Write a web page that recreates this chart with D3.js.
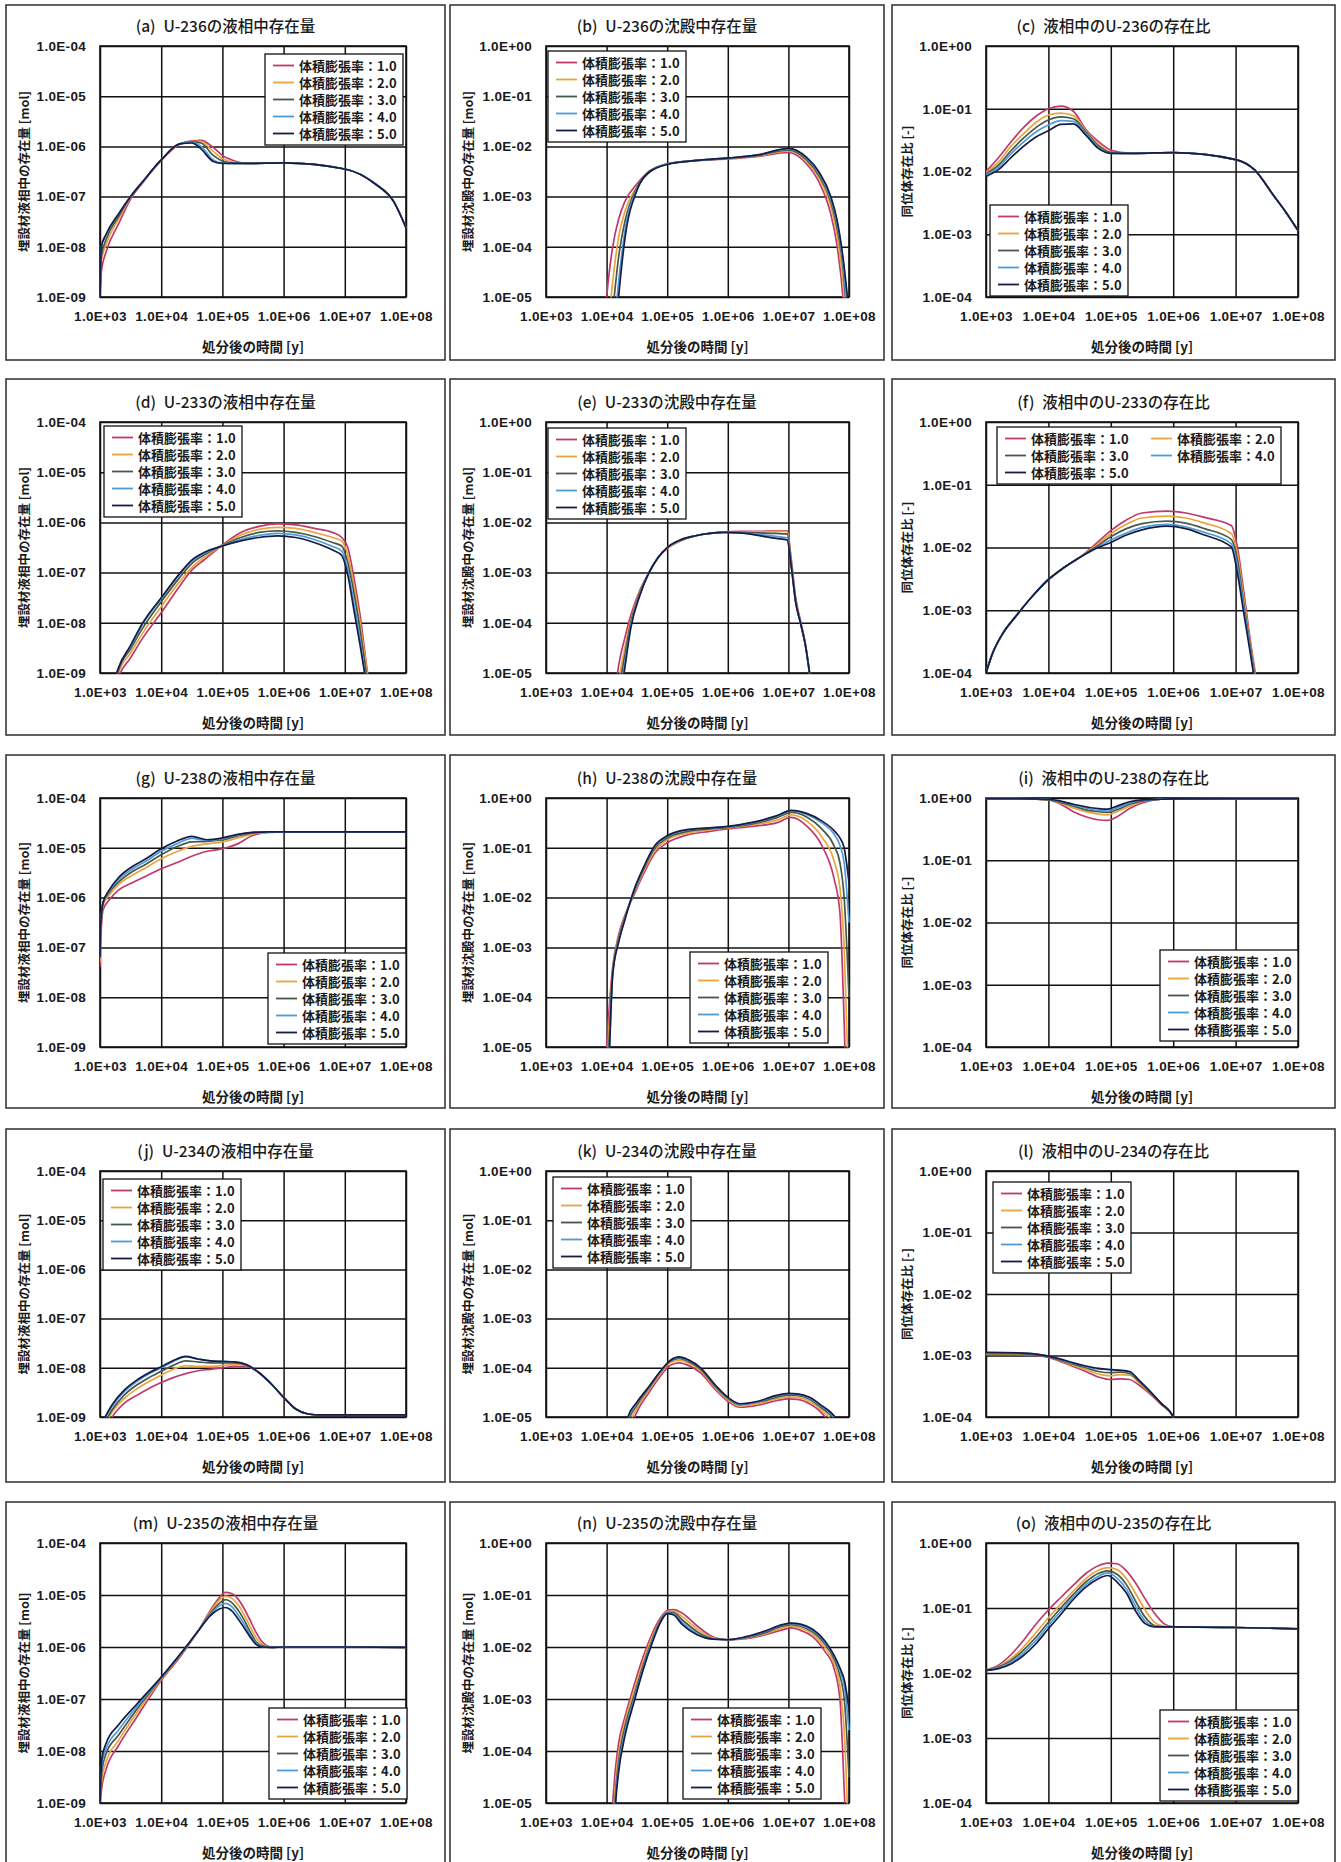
<!DOCTYPE html>
<html>
<head>
<meta charset="utf-8">
<script src="https://cdn.jsdelivr.net/npm/d3@7"></script>
<style>
  html, body { margin: 0; padding: 0; background: #ffffff; }
  svg { display: block; font-family: "Noto Sans CJK JP", "Noto Sans", sans-serif; }
</style>
</head>
<body>
<svg id="chart" width="1341" height="1862"></svg>
<script>
// ---------------------------------------------------------------
// Series definitions (volume expansion ratio 1.0 .. 5.0)
// ---------------------------------------------------------------
const volumeRatios = ["1.0", "2.0", "3.0", "4.0", "5.0"];
const legendLabels = volumeRatios.map(r => "体積膨張率：" + r);
const seriesColors = ["#c0386c", "#e9a43c", "#485848", "#4d9bd9", "#161c46"];

const panelTitles = [
  "(a)\u2002U-236の液相中存在量", "(b)\u2002U-236の沈殿中存在量", "(c)\u2002液相中のU-236の存在比",
  "(d)\u2002U-233の液相中存在量", "(e)\u2002U-233の沈殿中存在量", "(f)\u2002液相中のU-233の存在比",
  "(g)\u2002U-238の液相中存在量", "(h)\u2002U-238の沈殿中存在量", "(i)\u2002液相中のU-238の存在比",
  "(j)\u2002U-234の液相中存在量", "(k)\u2002U-234の沈殿中存在量", "(l)\u2002液相中のU-234の存在比",
  "(m)\u2002U-235の液相中存在量", "(n)\u2002U-235の沈殿中存在量", "(o)\u2002液相中のU-235の存在比"
];
const yTitleLiquid = "埋設材液相中の存在量 [mol]";
const yTitleSolid = "埋設材沈殿中の存在量 [mol]";
const yTitleRatio = "同位体存在比 [-]";
const xTitle = "処分後の時間 [y]";

// Axis ticks
const xTickValues = [1e3, 1e4, 1e5, 1e6, 1e7, 1e8];
const xTickLabels = ["1.0E+03", "1.0E+04", "1.0E+05", "1.0E+06", "1.0E+07", "1.0E+08"];
const yTickValuesLiquid = [1e-9, 1e-8, 1e-7, 1e-6, 1e-5, 1e-4];
const yTickLabelsLiquid = ["1.0E-09", "1.0E-08", "1.0E-07", "1.0E-06", "1.0E-05", "1.0E-04"];
const yTickValuesSolid = [1e-5, 1e-4, 1e-3, 1e-2, 1e-1, 1];
const yTickLabelsSolid = ["1.0E-05", "1.0E-04", "1.0E-03", "1.0E-02", "1.0E-01", "1.0E+00"];
const yTickValuesRatio = [1e-4, 1e-3, 1e-2, 1e-1, 1];
const yTickLabelsRatio = ["1.0E-04", "1.0E-03", "1.0E-02", "1.0E-01", "1.0E+00"];

// ---------------------------------------------------------------
// (a) U-236 in liquid phase [mol]
// ---------------------------------------------------------------
const tA = [1000, 1050, 1260, 2000, 3160, 5010, 1e4, 2e4, 3.16e4, 4.47e4, 7.08e4, 1e5, 1.58e5, 2.51e5, 1e6, 1e7, 3.16e7, 6.31e7, 1e8];
const vA = [
  [1e-9, 3.16e-9, 7.94e-9, 2.82e-8, 8.91e-8, 1.91e-7, 5.25e-7, 1.1e-6, 1.29e-6, 1.32e-6, 9.55e-7, 6.61e-7, 5.13e-7, 4.57e-7, 4.68e-7, 3.55e-7, 1.78e-7, 7.94e-8, 2.4e-8],
  [1e-9, 5.01e-9, 1.12e-8, 3.55e-8, 9.55e-8, 2e-7, 5.37e-7, 1.12e-6, 1.26e-6, 1.26e-6, 7.94e-7, 5.75e-7, 4.79e-7, 4.57e-7, 4.68e-7, 3.55e-7, 1.78e-7, 7.94e-8, 2.4e-8],
  [1e-9, 6.31e-9, 1.41e-8, 3.98e-8, 1e-7, 2e-7, 5.37e-7, 1.12e-6, 1.23e-6, 1.17e-6, 6.61e-7, 5.13e-7, 4.57e-7, 4.57e-7, 4.68e-7, 3.55e-7, 1.78e-7, 7.94e-8, 2.4e-8],
  [1e-9, 1e-8, 1.78e-8, 4.47e-8, 1e-7, 2e-7, 5.37e-7, 1.12e-6, 1.2e-6, 1e-6, 5.37e-7, 4.68e-7, 4.57e-7, 4.57e-7, 4.68e-7, 3.55e-7, 1.78e-7, 7.94e-8, 2.4e-8],
  [1e-9, 1e-8, 1.78e-8, 4.47e-8, 1e-7, 2e-7, 5.37e-7, 1.12e-6, 1.17e-6, 8.91e-7, 5.01e-7, 4.57e-7, 4.57e-7, 4.57e-7, 4.68e-7, 3.55e-7, 1.78e-7, 7.94e-8, 2.4e-8]
];

// (b) U-236 in precipitate [mol]
const tB = [7940, 1e4, 1.26e4, 1.58e4, 2e4, 3.16e4, 5.01e4, 1e5, 3.16e5, 1e6, 3.16e6, 1e7, 2e7, 3.16e7, 5.01e7, 6.31e7, 7.94e7, 1e8];
const vB = [
  [3.16e-7, 1e-5, 1e-4, 3.55e-4, 7.94e-4, 1.78e-3, 3.16e-3, 4.47e-3, 5.25e-3, 5.62e-3, 6.31e-3, 7.59e-3, 4.47e-3, 2e-3, 4.47e-4, 1.12e-4, 1e-5, 1e-7],
  [1e-7, 1e-6, 2e-5, 1.58e-4, 5.01e-4, 1.58e-3, 3.16e-3, 4.47e-3, 5.25e-3, 5.75e-3, 6.46e-3, 8.13e-3, 5.01e-3, 2.4e-3, 6.31e-4, 1.78e-4, 2e-5, 3.16e-7],
  [1e-7, 3.16e-7, 5.01e-6, 6.31e-5, 3.16e-4, 1.51e-3, 3.16e-3, 4.47e-3, 5.25e-3, 5.75e-3, 6.61e-3, 8.51e-3, 5.37e-3, 2.69e-3, 7.94e-4, 2.51e-4, 3.98e-5, 1e-6],
  [1e-7, 1e-7, 1e-6, 2e-5, 2e-4, 1.41e-3, 3.02e-3, 4.47e-3, 5.25e-3, 5.89e-3, 6.76e-3, 8.91e-3, 5.75e-3, 2.95e-3, 8.91e-4, 3.16e-4, 5.01e-5, 1.58e-6],
  [1e-7, 1e-7, 3.16e-7, 1e-5, 1.41e-4, 1.32e-3, 3.02e-3, 4.37e-3, 5.25e-3, 5.89e-3, 6.76e-3, 9.12e-3, 6.03e-3, 3.16e-3, 1e-3, 3.55e-4, 6.31e-5, 5.01e-6]
];

// (c) U-236 isotope ratio in liquid [-]
const tC = [1000, 1580, 2510, 3980, 6310, 1e4, 1.58e4, 2.51e4, 3.98e4, 6.31e4, 1e5, 1.58e5, 2.51e5, 1e6, 1e7, 2e7, 3.98e7, 6.31e7, 1e8];
const vC = [
  [1e-2, 1.66e-2, 2.95e-2, 5.01e-2, 7.59e-2, 1e-1, 1.1e-1, 9.12e-2, 4.68e-2, 3.02e-2, 2.19e-2, 2e-2, 1.95e-2, 2e-2, 1.55e-2, 1.07e-2, 4.27e-3, 2.29e-3, 1.15e-3],
  [9.55e-3, 1.41e-2, 2.51e-2, 3.98e-2, 6.03e-2, 7.94e-2, 8.51e-2, 7.76e-2, 4.47e-2, 2.75e-2, 2.04e-2, 1.95e-2, 1.95e-2, 2e-2, 1.55e-2, 1.07e-2, 4.27e-3, 2.29e-3, 1.15e-3],
  [9.12e-3, 1.26e-2, 2.14e-2, 3.39e-2, 5.01e-2, 6.61e-2, 7.41e-2, 6.92e-2, 4.27e-2, 2.57e-2, 2e-2, 1.95e-2, 1.95e-2, 2e-2, 1.55e-2, 1.07e-2, 4.27e-3, 2.29e-3, 1.15e-3],
  [8.71e-3, 1.17e-2, 1.91e-2, 2.95e-2, 4.27e-2, 5.5e-2, 6.46e-2, 6.31e-2, 4.07e-2, 2.45e-2, 1.95e-2, 1.95e-2, 1.95e-2, 2e-2, 1.55e-2, 1.07e-2, 4.27e-3, 2.29e-3, 1.15e-3],
  [8.32e-3, 1.07e-2, 1.66e-2, 2.51e-2, 3.55e-2, 4.47e-2, 5.62e-2, 5.75e-2, 3.8e-2, 2.34e-2, 1.95e-2, 1.95e-2, 1.95e-2, 2e-2, 1.55e-2, 1.07e-2, 4.27e-3, 2.29e-3, 1.15e-3]
];

// (d) U-233 in liquid phase [mol]
const tD = [1580, 2000, 3160, 5010, 1e4, 2e4, 3.16e4, 5.01e4, 1e5, 2e5, 3.98e5, 7.94e5, 1.58e6, 3.16e6, 6.31e6, 8.91e6, 1.12e7, 1.41e7, 1.78e7, 2.24e7, 2.82e7];
const vD = [
  [1e-10, 7.94e-10, 2e-9, 5.01e-9, 1.58e-8, 5.37e-8, 1.12e-7, 1.78e-7, 3.55e-7, 6.31e-7, 8.32e-7, 9.33e-7, 8.91e-7, 7.59e-7, 6.31e-7, 5.01e-7, 3.16e-7, 7.94e-8, 1.41e-8, 1.58e-9, 2e-10],
  [1.58e-10, 1e-9, 2.51e-9, 6.31e-9, 2.09e-8, 6.61e-8, 1.26e-7, 2e-7, 3.47e-7, 5.62e-7, 7.24e-7, 7.94e-7, 7.59e-7, 6.31e-7, 5.01e-7, 4.27e-7, 2.24e-7, 5.62e-8, 1e-8, 1.41e-9, 2e-10],
  [2.51e-10, 1.12e-9, 3.02e-9, 7.94e-9, 2.63e-8, 7.94e-8, 1.51e-7, 2.24e-7, 3.47e-7, 5.01e-7, 6.31e-7, 6.76e-7, 6.31e-7, 5.25e-7, 3.98e-7, 3.39e-7, 1.58e-7, 3.98e-8, 7.08e-9, 1e-9, 1.58e-10],
  [3.98e-10, 1.26e-9, 3.39e-9, 9.55e-9, 3.02e-8, 9.33e-8, 1.7e-7, 2.4e-7, 3.39e-7, 4.57e-7, 5.5e-7, 6.03e-7, 5.62e-7, 4.57e-7, 3.31e-7, 2.69e-7, 1.12e-7, 2.51e-8, 4.47e-9, 6.31e-10, 1e-10],
  [5.01e-10, 1.26e-9, 3.55e-9, 1e-8, 3.16e-8, 9.55e-8, 1.78e-7, 2.51e-7, 3.39e-7, 4.27e-7, 5.01e-7, 5.37e-7, 5.01e-7, 3.98e-7, 2.82e-7, 2.19e-7, 8.91e-8, 1.78e-8, 3.55e-9, 6.31e-10, 1e-10]
];

// (e) U-233 in precipitate [mol]
const tE = [1.26e4, 1.58e4, 2e4, 2.51e4, 3.55e4, 5.01e4, 7.08e4, 1e5, 1.58e5, 2.82e5, 5.01e5, 8.91e5, 1.58e6, 3.16e6, 6.31e6, 9.55e6, 1.12e7, 1.32e7, 1.58e7, 1.91e7, 2.29e7, 2.82e7];
const vE = [
  [1.58e-6, 1.41e-5, 5.01e-5, 1.41e-4, 4.47e-4, 1e-3, 2e-3, 3.02e-3, 4.17e-3, 5.37e-3, 6.03e-3, 6.46e-3, 6.61e-3, 6.61e-3, 6.76e-3, 6.76e-3, 1.78e-3, 3.16e-4, 1.12e-4, 3.8e-5, 7.94e-6, 1e-6],
  [6.31e-7, 6.31e-6, 3.16e-5, 1.12e-4, 4.17e-4, 1e-3, 2e-3, 3.09e-3, 4.27e-3, 5.37e-3, 6.03e-3, 6.46e-3, 6.46e-3, 6.46e-3, 6.61e-3, 6.61e-3, 1.58e-3, 2.82e-4, 1e-4, 3.55e-5, 7.94e-6, 1e-6],
  [3.16e-7, 3.98e-6, 2.24e-5, 1e-4, 3.98e-4, 1e-3, 2e-3, 3.16e-3, 4.37e-3, 5.37e-3, 6.03e-3, 6.31e-3, 6.31e-3, 6.17e-3, 6.03e-3, 5.89e-3, 1.41e-3, 2.69e-4, 1e-4, 3.55e-5, 7.94e-6, 1e-6],
  [1.58e-7, 2.51e-6, 1.58e-5, 8.91e-5, 3.72e-4, 1e-3, 2e-3, 3.16e-3, 4.37e-3, 5.37e-3, 6.03e-3, 6.31e-3, 6.17e-3, 5.75e-3, 5.25e-3, 4.9e-3, 1.32e-3, 2.51e-4, 1e-4, 3.55e-5, 7.94e-6, 1e-6],
  [1e-7, 1.58e-6, 1.26e-5, 7.94e-5, 3.55e-4, 1e-3, 2e-3, 3.16e-3, 4.37e-3, 5.37e-3, 6.03e-3, 6.31e-3, 6.17e-3, 5.5e-3, 4.79e-3, 4.47e-3, 1.26e-3, 2.51e-4, 1e-4, 3.55e-5, 7.94e-6, 1e-6]
];

// (f) U-233 isotope ratio in liquid [-]
const tF = [1000, 1260, 1780, 3160, 5620, 1e4, 1.78e4, 3.16e4, 5.62e4, 1e5, 1.78e5, 3.16e5, 7.94e5, 1.58e6, 3.16e6, 8.51e6, 1.07e7, 1.35e7, 1.7e7, 2.14e7, 2.82e7];
const vF = [
  [1e-4, 2e-4, 3.98e-4, 8.51e-4, 1.7e-3, 3.09e-3, 4.79e-3, 6.92e-3, 1.12e-2, 1.86e-2, 2.75e-2, 3.55e-2, 3.8e-2, 3.55e-2, 3.02e-2, 2.24e-2, 1e-2, 2e-3, 3.55e-4, 7.94e-5, 1e-5],
  [1e-4, 2e-4, 3.98e-4, 8.51e-4, 1.7e-3, 3.09e-3, 4.79e-3, 6.92e-3, 1.05e-2, 1.66e-2, 2.34e-2, 2.95e-2, 3.16e-2, 2.95e-2, 2.45e-2, 1.66e-2, 7.94e-3, 1.58e-3, 3.16e-4, 7.08e-5, 1e-5],
  [1e-4, 2e-4, 3.98e-4, 8.51e-4, 1.7e-3, 3.09e-3, 4.79e-3, 6.92e-3, 1e-2, 1.48e-2, 2e-2, 2.4e-2, 2.63e-2, 2.45e-2, 2e-2, 1.35e-2, 6.31e-3, 1.26e-3, 2.82e-4, 6.31e-5, 1e-5],
  [1e-4, 2e-4, 3.98e-4, 8.51e-4, 1.7e-3, 3.09e-3, 4.79e-3, 6.92e-3, 9.55e-3, 1.32e-2, 1.7e-2, 2.09e-2, 2.34e-2, 2.14e-2, 1.74e-2, 1.15e-2, 5.01e-3, 1.12e-3, 2.51e-4, 5.62e-5, 1e-5],
  [1e-4, 2e-4, 3.98e-4, 8.51e-4, 1.7e-3, 3.09e-3, 4.79e-3, 6.92e-3, 9.55e-3, 1.2e-2, 1.58e-2, 1.91e-2, 2.19e-2, 2e-2, 1.58e-2, 1.02e-2, 3.89e-3, 9.12e-4, 2.24e-4, 5.01e-5, 1e-5]
];

// (g) U-238 in liquid phase [mol]
const tG = [1000, 1020, 1120, 1410, 2000, 3160, 5620, 1e4, 1.78e4, 3.16e4, 5.62e4, 1e5, 1.78e5, 3.16e5, 5.62e5, 1e6, 1e7, 1e8];
const vG = [
  [3.98e-8, 1e-7, 5.62e-7, 8.91e-7, 1.41e-6, 1.91e-6, 2.69e-6, 3.8e-6, 5.01e-6, 6.76e-6, 8.51e-6, 9.55e-6, 1.2e-5, 1.78e-5, 2.04e-5, 2.09e-5, 2.09e-5, 2.09e-5],
  [5.01e-8, 1.58e-7, 7.08e-7, 1.12e-6, 1.82e-6, 2.69e-6, 3.98e-6, 6.03e-6, 8.32e-6, 1.07e-5, 1.2e-5, 1.32e-5, 1.58e-5, 1.91e-5, 2.04e-5, 2.09e-5, 2.09e-5, 2.09e-5],
  [6.31e-8, 2e-7, 7.59e-7, 1.26e-6, 2.04e-6, 3.16e-6, 4.68e-6, 7.24e-6, 1.05e-5, 1.32e-5, 1.35e-5, 1.45e-5, 1.74e-5, 2e-5, 2.09e-5, 2.09e-5, 2.09e-5, 2.09e-5],
  [6.31e-8, 2.24e-7, 7.94e-7, 1.35e-6, 2.29e-6, 3.55e-6, 5.37e-6, 8.51e-6, 1.2e-5, 1.55e-5, 1.41e-5, 1.51e-5, 1.82e-5, 2.04e-5, 2.09e-5, 2.09e-5, 2.09e-5, 2.09e-5],
  [6.31e-8, 2.51e-7, 7.94e-7, 1.41e-6, 2.51e-6, 3.98e-6, 6.03e-6, 9.55e-6, 1.35e-5, 1.7e-5, 1.45e-5, 1.58e-5, 1.86e-5, 2.04e-5, 2.09e-5, 2.09e-5, 2.09e-5, 2.09e-5]
];

// (h) U-238 in precipitate [mol]
const tH = [7940, 1e4, 1.12e4, 1.26e4, 1.58e4, 2e4, 2.82e4, 3.98e4, 6.31e4, 1e5, 2e5, 5.01e5, 1e6, 2.51e6, 6.31e6, 1.12e7, 2e7, 3.55e7, 5.62e7, 7.08e7, 8.32e7, 1e8];
const vH = [
  [3.16e-7, 1e-5, 7.94e-5, 3.98e-4, 1.78e-3, 4.37e-3, 1.12e-2, 2.82e-2, 7.94e-2, 1.26e-1, 1.78e-1, 2.14e-1, 2.4e-1, 2.69e-1, 3.16e-1, 4.07e-1, 2.75e-1, 1.12e-1, 2.51e-2, 5.01e-3, 3.16e-5, 1e-8],
  [1e-7, 2.51e-6, 3.98e-5, 3.55e-4, 1.58e-3, 4.17e-3, 1.2e-2, 3.16e-2, 8.91e-2, 1.45e-1, 1.95e-1, 2.29e-1, 2.51e-1, 2.88e-1, 3.55e-1, 4.57e-1, 3.47e-1, 1.66e-1, 5.62e-2, 1.58e-2, 1e-3, 1e-6],
  [1e-7, 1e-6, 2e-5, 3.16e-4, 1.48e-3, 3.98e-3, 1.26e-2, 3.47e-2, 1e-1, 1.58e-1, 2.09e-1, 2.4e-1, 2.57e-1, 3.02e-1, 3.98e-1, 5.13e-1, 4.17e-1, 2.4e-1, 1.12e-1, 5.01e-2, 1e-2, 1e-4],
  [1e-7, 5.01e-7, 1.26e-5, 2.82e-4, 1.35e-3, 3.72e-3, 1.35e-2, 3.72e-2, 1.07e-1, 1.7e-1, 2.24e-1, 2.51e-1, 2.63e-1, 3.16e-1, 4.27e-1, 5.5e-1, 4.68e-1, 3.16e-1, 1.91e-1, 1.12e-1, 5.01e-2, 3.16e-3],
  [1e-7, 3.16e-7, 1e-5, 2.82e-4, 1.26e-3, 3.55e-3, 1.41e-2, 3.8e-2, 1.12e-1, 1.74e-1, 2.29e-1, 2.51e-1, 2.69e-1, 3.24e-1, 4.37e-1, 5.62e-1, 4.9e-1, 3.47e-1, 2.24e-1, 1.58e-1, 1e-1, 2e-2]
];

// (i) U-238 isotope ratio in liquid [-]
const tI = [1000, 3160, 1e4, 1.58e4, 2.51e4, 3.98e4, 6.31e4, 8.91e4, 1.26e5, 2e5, 3.16e5, 6.31e5, 1e6, 1e7, 1e8];
const vI = [
  [0.977, 0.977, 0.933, 0.794, 0.603, 0.501, 0.447, 0.437, 0.501, 0.676, 0.832, 0.955, 0.966, 0.977, 0.977],
  [0.977, 0.977, 0.933, 0.832, 0.692, 0.603, 0.55, 0.537, 0.603, 0.741, 0.871, 0.955, 0.966, 0.977, 0.977],
  [0.977, 0.977, 0.933, 0.851, 0.741, 0.646, 0.603, 0.589, 0.646, 0.794, 0.891, 0.955, 0.966, 0.977, 0.977],
  [0.977, 0.977, 0.955, 0.871, 0.776, 0.692, 0.631, 0.617, 0.692, 0.832, 0.912, 0.955, 0.966, 0.977, 0.977],
  [0.977, 0.977, 0.955, 0.891, 0.794, 0.724, 0.676, 0.661, 0.741, 0.871, 0.933, 0.955, 0.966, 0.977, 0.977]
];

// (j) U-234 in liquid phase [mol]
const tJ = [1000, 1580, 2510, 3980, 6310, 1e4, 1.58e4, 2.51e4, 3.98e4, 6.31e4, 1e5, 1.58e5, 2.51e5, 3.98e5, 6.31e5, 1e6, 1.58e6, 2.51e6, 3.98e6, 1e7, 1e8];
const vJ = [
  [3.16e-10, 1e-9, 1.91e-9, 2.75e-9, 3.8e-9, 5.01e-9, 6.31e-9, 7.59e-9, 8.71e-9, 9.33e-9, 1e-8, 1.07e-8, 1.05e-8, 7.94e-9, 4.68e-9, 2.51e-9, 1.45e-9, 1.15e-9, 1.1e-9, 1.1e-9, 1.1e-9],
  [3.98e-10, 1.26e-9, 2.4e-9, 3.72e-9, 5.25e-9, 7.08e-9, 9.33e-9, 1.1e-8, 1.07e-8, 1.07e-8, 1.12e-8, 1.17e-8, 1.1e-8, 7.94e-9, 4.68e-9, 2.51e-9, 1.45e-9, 1.15e-9, 1.1e-9, 1.1e-9, 1.1e-9],
  [5.01e-10, 1.41e-9, 2.82e-9, 4.47e-9, 6.31e-9, 8.51e-9, 1.12e-8, 1.38e-8, 1.32e-8, 1.26e-8, 1.26e-8, 1.26e-8, 1.12e-8, 7.94e-9, 4.68e-9, 2.51e-9, 1.45e-9, 1.15e-9, 1.1e-9, 1.1e-9, 1.1e-9],
  [6.31e-10, 1.66e-9, 3.31e-9, 5.25e-9, 7.59e-9, 1e-8, 1.35e-8, 1.66e-8, 1.51e-8, 1.38e-8, 1.35e-8, 1.32e-8, 1.15e-8, 7.94e-9, 4.68e-9, 2.51e-9, 1.45e-9, 1.15e-9, 1.1e-9, 1.1e-9, 1.1e-9],
  [6.31e-10, 1.78e-9, 3.55e-9, 5.62e-9, 7.94e-9, 1.05e-8, 1.41e-8, 1.7e-8, 1.51e-8, 1.38e-8, 1.35e-8, 1.32e-8, 1.15e-8, 7.94e-9, 4.68e-9, 2.51e-9, 1.45e-9, 1.15e-9, 1.1e-9, 1.1e-9, 1.1e-9]
];

// (k) U-234 in precipitate [mol]
const tK = [1.58e4, 2.24e4, 3.16e4, 5.01e4, 7.94e4, 1.12e5, 1.58e5, 2.24e5, 3.55e5, 6.31e5, 1e6, 1.58e6, 3.16e6, 6.31e6, 1e7, 1.41e7, 2.24e7, 3.55e7, 5.62e7, 7.94e7];
const vK = [
  [3.16e-7, 3.98e-6, 1.26e-5, 3.16e-5, 7.08e-5, 1.12e-4, 1.26e-4, 1.12e-4, 7.94e-5, 3.55e-5, 2.09e-5, 1.58e-5, 1.74e-5, 2.14e-5, 2.34e-5, 2.29e-5, 1.86e-5, 1.2e-5, 5.01e-6, 1e-6],
  [5.01e-7, 5.62e-6, 1.51e-5, 3.55e-5, 7.94e-5, 1.26e-4, 1.41e-4, 1.26e-4, 8.71e-5, 3.8e-5, 2.24e-5, 1.66e-5, 1.86e-5, 2.34e-5, 2.57e-5, 2.51e-5, 2.09e-5, 1.35e-5, 7.08e-6, 1.58e-6],
  [6.31e-7, 7.59e-6, 1.74e-5, 3.89e-5, 8.51e-5, 1.35e-4, 1.55e-4, 1.35e-4, 9.33e-5, 4.07e-5, 2.4e-5, 1.78e-5, 2e-5, 2.51e-5, 2.82e-5, 2.75e-5, 2.29e-5, 1.51e-5, 8.91e-6, 3.16e-6],
  [7.94e-7, 8.91e-6, 1.91e-5, 4.07e-5, 8.71e-5, 1.38e-4, 1.62e-4, 1.41e-4, 9.77e-5, 4.27e-5, 2.45e-5, 1.82e-5, 2.04e-5, 2.69e-5, 2.95e-5, 2.88e-5, 2.4e-5, 1.62e-5, 1e-5, 3.98e-6],
  [1e-6, 1e-5, 2e-5, 4.17e-5, 8.91e-5, 1.41e-4, 1.66e-4, 1.45e-4, 1e-4, 4.37e-5, 2.51e-5, 1.86e-5, 2.09e-5, 2.75e-5, 3.02e-5, 2.95e-5, 2.51e-5, 1.7e-5, 1.07e-5, 5.01e-6]
];

// (l) U-234 isotope ratio in liquid [-]
const tL = [1000, 3160, 6310, 1e4, 1.58e4, 2.51e4, 3.98e4, 6.31e4, 1e5, 1.41e5, 2e5, 2.82e5, 3.98e5, 6.31e5, 1e6, 1.12e6];
const vL = [
  [1.02e-3, 1.02e-3, 1e-3, 9.33e-4, 7.94e-4, 6.61e-4, 5.5e-4, 4.47e-4, 4.07e-4, 4.17e-4, 4.07e-4, 3.31e-4, 2.51e-4, 1.62e-4, 1e-4, 5.01e-5],
  [1.05e-3, 1.05e-3, 1.02e-3, 9.55e-4, 8.13e-4, 6.92e-4, 5.89e-4, 5.01e-4, 4.68e-4, 4.9e-4, 4.79e-4, 3.63e-4, 2.63e-4, 1.66e-4, 1e-4, 5.01e-5],
  [1.07e-3, 1.07e-3, 1.02e-3, 9.55e-4, 8.32e-4, 7.24e-4, 6.31e-4, 5.5e-4, 5.25e-4, 5.37e-4, 5.13e-4, 3.8e-4, 2.69e-4, 1.66e-4, 1e-4, 5.01e-5],
  [1.1e-3, 1.1e-3, 1.05e-3, 9.77e-4, 8.51e-4, 7.41e-4, 6.61e-4, 6.03e-4, 5.89e-4, 5.75e-4, 5.37e-4, 3.89e-4, 2.75e-4, 1.7e-4, 1e-4, 5.01e-5],
  [1.12e-3, 1.1e-3, 1.05e-3, 9.77e-4, 8.71e-4, 7.59e-4, 6.76e-4, 6.17e-4, 5.89e-4, 5.75e-4, 5.5e-4, 3.98e-4, 2.82e-4, 1.7e-4, 1e-4, 5.01e-5]
];

// (m) U-235 in liquid phase [mol]
const tM = [1000, 1070, 1260, 2000, 3980, 1e4, 2e4, 3.98e4, 6.31e4, 8.91e4, 1.12e5, 1.41e5, 1.78e5, 2.24e5, 2.82e5, 3.55e5, 4.47e5, 6.31e5, 1e6, 1e7, 1e8];
const vM = [
  [1e-9, 2e-9, 4.47e-9, 1.26e-8, 4.47e-8, 2.29e-7, 6.31e-7, 2e-6, 5.01e-6, 8.91e-6, 1.12e-5, 1.07e-5, 8.51e-6, 5.62e-6, 3.31e-6, 1.91e-6, 1.26e-6, 1e-6, 1e-6, 1e-6, 9.8e-7],
  [1e-9, 2.82e-9, 6.31e-9, 1.58e-8, 5.37e-8, 2.4e-7, 6.61e-7, 2e-6, 4.68e-6, 7.94e-6, 9.55e-6, 8.71e-6, 6.61e-6, 4.27e-6, 2.51e-6, 1.51e-6, 1.12e-6, 9.8e-7, 1e-6, 1e-6, 9.8e-7],
  [1e-9, 3.98e-9, 8.91e-9, 2e-8, 6.31e-8, 2.51e-7, 6.76e-7, 2e-6, 4.37e-6, 6.92e-6, 8.13e-6, 7.24e-6, 5.25e-6, 3.39e-6, 2e-6, 1.26e-6, 1.05e-6, 9.8e-7, 1e-6, 1e-6, 9.8e-7],
  [1e-9, 5.62e-9, 1.12e-8, 2.51e-8, 7.08e-8, 2.57e-7, 6.92e-7, 2e-6, 4.17e-6, 6.17e-6, 6.92e-6, 6.03e-6, 4.27e-6, 2.82e-6, 1.74e-6, 1.17e-6, 1.02e-6, 9.8e-7, 1e-6, 1e-6, 9.8e-7],
  [1e-9, 7.08e-9, 1.41e-8, 3.16e-8, 7.94e-8, 2.63e-7, 7.08e-7, 2e-6, 3.98e-6, 5.37e-6, 5.75e-6, 5.01e-6, 3.55e-6, 2.4e-6, 1.58e-6, 1.12e-6, 1e-6, 9.8e-7, 1e-6, 1e-6, 9.8e-7]
];

// (n) U-235 in precipitate [mol]
const tN = [1e4, 1.26e4, 1.41e4, 1.58e4, 2e4, 2.82e4, 3.98e4, 5.62e4, 7.94e4, 1e5, 1.26e5, 1.78e5, 3.16e5, 5.62e5, 1e6, 2e6, 3.98e6, 7.94e6, 1.12e7, 1.58e7, 2.51e7, 3.98e7, 5.62e7, 7.08e7, 8.51e7, 1e8];
const vN = [
  [3.16e-7, 1e-5, 5.01e-5, 1.41e-4, 4.47e-4, 1.78e-3, 6.31e-3, 1.78e-2, 3.8e-2, 5.01e-2, 5.25e-2, 4.47e-2, 2.51e-2, 1.58e-2, 1.38e-2, 1.45e-2, 1.7e-2, 2.14e-2, 2.34e-2, 2.09e-2, 1.58e-2, 8.32e-3, 3.98e-3, 1e-3, 1e-5, 1e-7],
  [1.58e-7, 3.16e-6, 2.51e-5, 8.91e-5, 3.55e-4, 1.41e-3, 5.01e-3, 1.51e-2, 3.55e-2, 4.79e-2, 4.9e-2, 3.8e-2, 2.19e-2, 1.51e-2, 1.38e-2, 1.48e-2, 1.78e-2, 2.34e-2, 2.51e-2, 2.29e-2, 1.78e-2, 1e-2, 5.01e-3, 1.78e-3, 1.58e-4, 1e-6],
  [1e-7, 1.58e-6, 1.58e-5, 6.31e-5, 2.82e-4, 1.12e-3, 4.27e-3, 1.35e-2, 3.39e-2, 4.57e-2, 4.57e-2, 3.31e-2, 1.95e-2, 1.45e-2, 1.38e-2, 1.51e-2, 1.86e-2, 2.51e-2, 2.69e-2, 2.51e-2, 1.95e-2, 1.15e-2, 6.03e-3, 2.82e-3, 7.94e-4, 3.16e-5],
  [1e-7, 1e-6, 1.26e-5, 5.01e-5, 2.24e-4, 9.55e-4, 3.8e-3, 1.26e-2, 3.24e-2, 4.47e-2, 4.37e-2, 2.95e-2, 1.78e-2, 1.41e-2, 1.38e-2, 1.55e-2, 1.95e-2, 2.63e-2, 2.82e-2, 2.63e-2, 2.09e-2, 1.26e-2, 6.76e-3, 3.55e-3, 1.58e-3, 2.51e-4],
  [1e-7, 6.31e-7, 1e-5, 3.98e-5, 1.91e-4, 8.51e-4, 3.55e-3, 1.17e-2, 3.16e-2, 4.37e-2, 4.17e-2, 2.69e-2, 1.7e-2, 1.41e-2, 1.38e-2, 1.58e-2, 2e-2, 2.69e-2, 2.88e-2, 2.75e-2, 2.19e-2, 1.32e-2, 7.08e-3, 3.98e-3, 2.14e-3, 6.31e-4]
];

// (o) U-235 isotope ratio in liquid [-]
const tO = [1000, 1580, 2510, 3980, 6310, 1e4, 1.58e4, 2.51e4, 3.98e4, 6.31e4, 8.91e4, 1.26e5, 1.78e5, 2.51e5, 3.55e5, 5.01e5, 7.08e5, 1e6, 1e7, 1e8];
const vO = [
  [1.12e-2, 1.32e-2, 1.91e-2, 3.16e-2, 5.62e-2, 9.33e-2, 0.145, 0.224, 0.339, 0.447, 0.49, 0.479, 0.372, 0.24, 0.138, 8.32e-2, 5.75e-2, 5.13e-2, 5.01e-2, 4.79e-2],
  [1.12e-2, 1.26e-2, 1.66e-2, 2.51e-2, 4.17e-2, 7.08e-2, 0.115, 0.182, 0.282, 0.38, 0.417, 0.389, 0.282, 0.166, 9.33e-2, 6.03e-2, 5.25e-2, 5.13e-2, 5.01e-2, 4.79e-2],
  [1.1e-2, 1.23e-2, 1.55e-2, 2.24e-2, 3.55e-2, 6.03e-2, 0.1, 0.162, 0.251, 0.339, 0.372, 0.331, 0.229, 0.126, 7.24e-2, 5.37e-2, 5.13e-2, 5.13e-2, 5.01e-2, 4.79e-2],
  [1.1e-2, 1.2e-2, 1.45e-2, 2.04e-2, 3.16e-2, 5.37e-2, 8.91e-2, 0.148, 0.229, 0.309, 0.347, 0.288, 0.195, 0.105, 6.31e-2, 5.25e-2, 5.13e-2, 5.13e-2, 5.01e-2, 4.79e-2],
  [1.1e-2, 1.17e-2, 1.38e-2, 1.86e-2, 2.82e-2, 4.79e-2, 7.94e-2, 0.135, 0.209, 0.282, 0.316, 0.251, 0.17, 8.91e-2, 5.75e-2, 5.13e-2, 5.13e-2, 5.13e-2, 5.01e-2, 4.79e-2]
];

// ---------------------------------------------------------------
// Layout
// ---------------------------------------------------------------
const W = 1341, H = 1862;
const colPlotX = [[100, 406], [546, 849], [986, 1298]];
const rowPlotY = [[46, 297], [422, 673], [798, 1047], [1171, 1417], [1543, 1803]];
const colBox = [[6, 445], [450, 884], [892, 1335]];
const rowBox = [[5, 360], [379, 735], [755, 1108], [1129, 1482], [1502, 1880]];
const yTitleX = [23, 467, 906];

// legend box top-left per panel, and number of columns
const legendAt = [
  [265, 54], [548, 51], [990, 205],
  [104, 426], [548, 428], [997, 427],
  [268, 953], [690, 952], [1160, 950],
  [103, 1179], [553, 1177], [993, 1182],
  [269, 1708], [683, 1708], [1160, 1710]
];
const legendCols = [1, 1, 1, 1, 1, 2, 1, 1, 1, 1, 1, 1, 1, 1, 1];

const kinds = ["liquid", "solid", "ratio"];
const timeSets = [tA, tB, tC, tD, tE, tF, tG, tH, tI, tJ, tK, tL, tM, tN, tO];
const valueSets = [vA, vB, vC, vD, vE, vF, vG, vH, vI, vJ, vK, vL, vM, vN, vO];

const svg = d3.select("#chart");
svg.append("rect").attr("width", W).attr("height", H).attr("fill", "#ffffff");

const defs = svg.append("defs");

panelTitles.forEach((title, idx) => {
  const r = Math.floor(idx / 3), c = idx % 3;
  const kind = kinds[c];
  const [x0, x1] = colPlotX[c];
  const [y0, y1] = rowPlotY[r];

  const yVals = kind === "liquid" ? yTickValuesLiquid : kind === "solid" ? yTickValuesSolid : yTickValuesRatio;
  const yLabs = kind === "liquid" ? yTickLabelsLiquid : kind === "solid" ? yTickLabelsSolid : yTickLabelsRatio;
  const yTitle = kind === "liquid" ? yTitleLiquid : kind === "solid" ? yTitleSolid : yTitleRatio;

  const x = d3.scaleLog().domain([1e3, 1e8]).range([x0, x1]);
  const y = d3.scaleLog().domain([yVals[0], yVals[yVals.length - 1]]).range([y1, y0]);

  const g = svg.append("g").attr("class", "panel");

  // panel frame
  g.append("rect")
    .attr("x", colBox[c][0]).attr("y", rowBox[r][0])
    .attr("width", colBox[c][1] - colBox[c][0])
    .attr("height", rowBox[r][1] - rowBox[r][0])
    .attr("fill", "none").attr("stroke", "#3a3a3a").attr("stroke-width", 1.6);

  // title
  g.append("text")
    .attr("x", (colBox[c][0] + colBox[c][1]) / 2).attr("y", y0 - 21)
    .attr("text-anchor", "middle").attr("dominant-baseline", "central")
    .attr("font-size", 15.5).attr("font-weight", 500).attr("fill", "#1a1a1a")
    .text(title);

  // horizontal grid + y labels
  const yAxis = d3.axisLeft(y)
    .tickValues(yVals)
    .tickFormat((d, i) => yLabs[i])
    .tickSize(-(x1 - x0))
    .tickPadding(14);
  g.append("g").attr("transform", `translate(${x0},0)`).call(yAxis)
    .call(s => {
      s.select(".domain").remove();
      s.selectAll("line").attr("stroke", "#111").attr("stroke-width", 1.5);
      s.selectAll("text").attr("font-family", null).attr("font-size", 13.5)
        .attr("letter-spacing", 0.3)
        .attr("font-weight", 600).attr("fill", "#1a1a1a");
    });

  // vertical grid + x labels
  const xAxis = d3.axisBottom(x)
    .tickValues(xTickValues)
    .tickFormat((d, i) => xTickLabels[i])
    .tickSize(-(y1 - y0))
    .tickPadding(14);
  g.append("g").attr("transform", `translate(0,${y1})`).call(xAxis)
    .call(s => {
      s.select(".domain").remove();
      s.selectAll("line").attr("stroke", "#111").attr("stroke-width", 1.5);
      s.selectAll("text").attr("font-family", null).attr("font-size", 13.5)
        .attr("letter-spacing", 0.3)
        .attr("font-weight", 600).attr("fill", "#1a1a1a");
    });

  // plot border
  g.append("rect")
    .attr("x", x0).attr("y", y0).attr("width", x1 - x0).attr("height", y1 - y0)
    .attr("fill", "none").attr("stroke", "#111").attr("stroke-width", 1.6);

  // axis titles
  g.append("text")
    .attr("x", (x0 + x1) / 2).attr("y", y1 + 49)
    .attr("text-anchor", "middle").attr("dominant-baseline", "central")
    .attr("font-size", 13.5).attr("font-weight", 700).attr("fill", "#1a1a1a")
    .text(xTitle);
  g.append("text")
    .attr("transform", `translate(${yTitleX[c]},${(y0 + y1) / 2}) rotate(-90)`)
    .attr("text-anchor", "middle").attr("dominant-baseline", "central")
    .attr("font-size", 12.5).attr("font-weight", 700).attr("fill", "#1a1a1a")
    .text(yTitle);

  // curves
  const clipId = "clip-" + idx;
  defs.append("clipPath").attr("id", clipId)
    .append("rect").attr("x", x0).attr("y", y0 - 1.5).attr("width", x1 - x0 + 1).attr("height", y1 - y0 + 2);

  const times = timeSets[idx];
  const line = d3.line()
    .x((d, i) => x(times[i]))
    .y(d => y(d))
    .curve(d3.curveMonotoneX);

  const lg = g.append("g").attr("clip-path", `url(#${clipId})`);
  valueSets[idx].forEach((vals, s) => {
    lg.append("path")
      .attr("d", line(vals))
      .attr("fill", "none")
      .attr("stroke", seriesColors[s])
      .attr("stroke-width", 1.7)
      .attr("stroke-linejoin", "round");
  });

  // legend
  const [lx, ly] = legendAt[idx];
  const cols = legendCols[idx];
  const rowH = 17;
  const nRows = cols === 2 ? 3 : 5;
  const bw = cols === 2 ? 284 : 138;
  const bh = nRows * rowH + 6;
  const leg = g.append("g");
  leg.append("rect").attr("x", lx).attr("y", ly).attr("width", bw).attr("height", bh)
    .attr("fill", "#ffffff").attr("stroke", "#111").attr("stroke-width", 1.3);
  legendLabels.forEach((lab, s) => {
    const col = cols === 2 ? s % 2 : 0;
    const row = cols === 2 ? Math.floor(s / 2) : s;
    const ix = lx + col * 146;
    const iy = ly + 3 + rowH * (row + 0.5);
    leg.append("line").attr("x1", ix + 8).attr("x2", ix + 29).attr("y1", iy).attr("y2", iy)
      .attr("stroke", seriesColors[s]).attr("stroke-width", 1.8);
    leg.append("text").attr("x", ix + 34).attr("y", iy)
      .attr("dominant-baseline", "central")
      .attr("font-size", 13).attr("font-weight", 600).attr("fill", "#1a1a1a")
      .text(lab);
  });
});
</script>
</body>
</html>
